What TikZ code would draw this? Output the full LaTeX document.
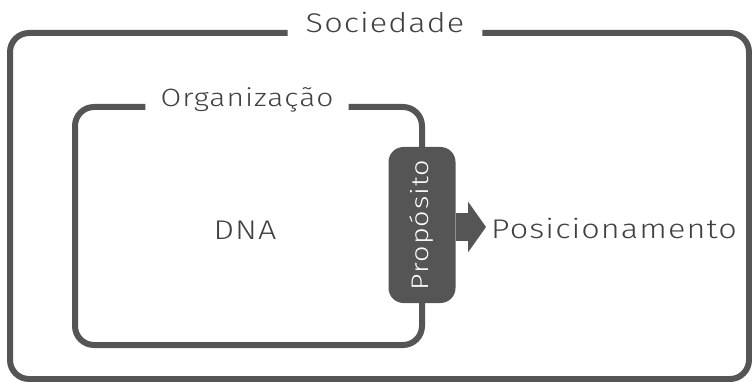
\documentclass[tikz,border=0pt]{standalone}
\usepackage{fontspec}
\usetikzlibrary{positioning,
        shapes,
        arrows.meta}
\usepackage{xcolor}
\newfontfamily\lblfont{Fira Sans Light}[FakeStretch=1.2,LetterSpace=4]
\definecolor{frame}{HTML}{555555}
\definecolor{txt}{HTML}{404040}

\begin{document}
\begin{tikzpicture}[x=1pt,y=-1pt,
        box/.style={draw=frame,line width=6pt,rounded corners=19pt},
        lbl/.style={text=txt,font=\lblfont\fontsize{27}{30}\selectfont,inner ysep=0pt}]
        \useasboundingbox (0,0) rectangle (752,382);
        \node [lbl,inner xsep=18pt,anchor=base] (soc) at (385,33) {Sociedade};
        \node [lbl,inner xsep=15pt,anchor=base,font=\lblfont\fontsize{25}{28}\selectfont] (org) at (247,107) {Organização};
        \node [lbl,anchor=base] (dna) at (245,240) {DNA};
        \node [lbl,anchor=base west,inner xsep=0pt] (pos) at (491,238) {Posicionamento};
        \node [fill=frame,rounded corners=15pt,minimum width=156pt,minimum height=67pt,
               rotate=90,text=white,font=\lblfont\fontsize{24}{26}\selectfont] (prop) at (422,225) {Propósito};
        \coordinate (tip) at (486,227);

        \draw [box] (soc.base west) -- (10,33) -- (10,379) -- (749,379) -- (749,33) -- (soc.base east);
        \draw [box] (org.base east) -| (prop.east);
        \draw [box] (org.base west) -| (75,345) -| (prop.west);
        \draw [frame,line width=28pt,-{Triangle[length=18pt,width=50pt]}] (prop.south |- tip) -- (tip);
    \end{tikzpicture}
\end{document}
